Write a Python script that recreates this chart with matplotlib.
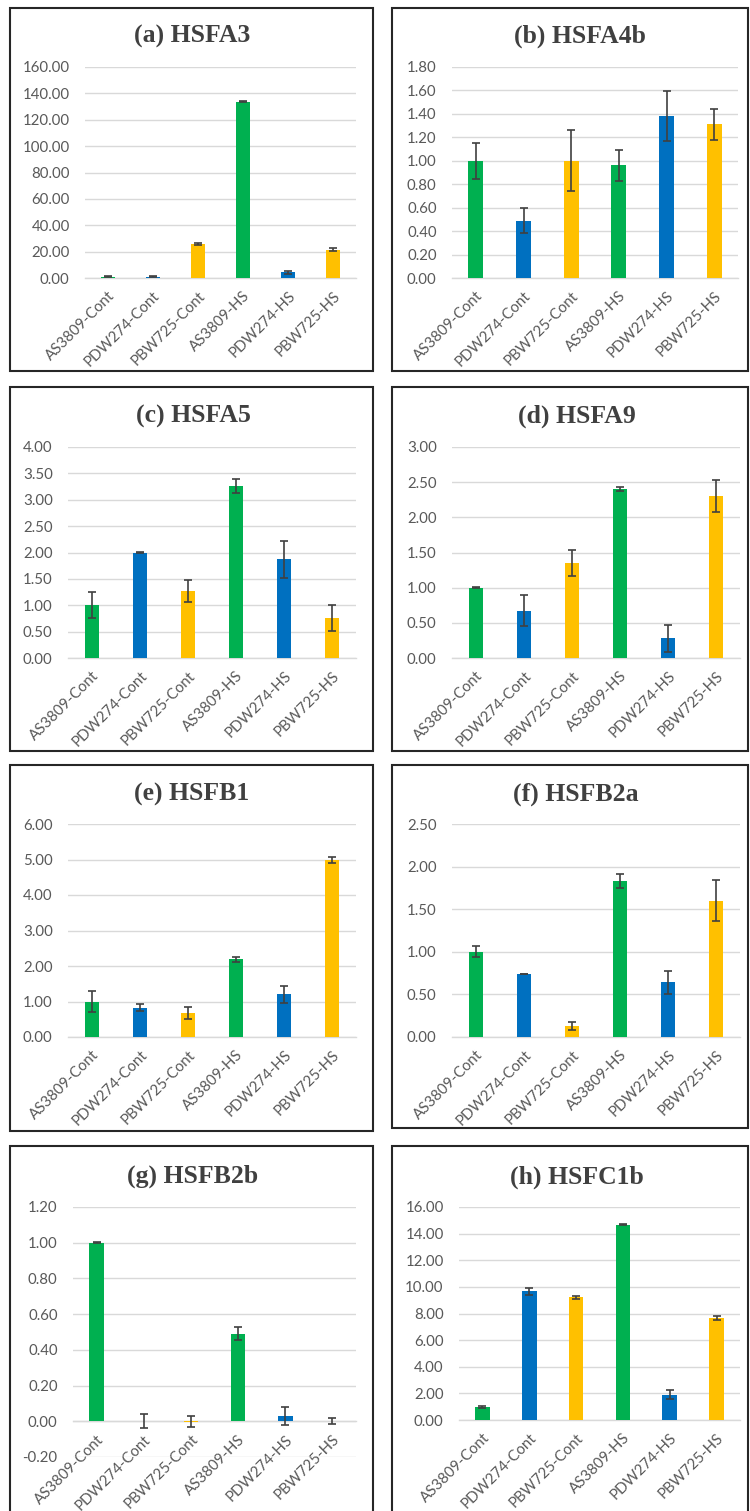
import matplotlib
matplotlib.use("Agg")
import matplotlib.pyplot as plt
from matplotlib.patches import Rectangle

categories = ["AS3809-Cont", "PDW274-Cont", "PBW725-Cont", "AS3809-HS", "PDW274-HS", "PBW725-HS"]
bar_colors = ["#00B050", "#0070C0", "#FFC000", "#00B050", "#0070C0", "#FFC000"]

titles = ["(a) HSFA3", "(b) HSFA4b", "(c) HSFA5", "(d) HSFA9",
          "(e) HSFB1", "(f) HSFB2a", "(g) HSFB2b", "(h) HSFC1b"]

hsfa3 = [1.0, 1.0, 25.8, 133.8, 4.4, 21.6]
hsfa3_err = [0.6, 0.4, 1.0, 0.5, 1.0, 0.9]
hsfa4b = [1.00, 0.49, 1.00, 0.96, 1.38, 1.31]
hsfa4b_err = [0.155, 0.11, 0.26, 0.13, 0.215, 0.135]
hsfa5 = [1.00, 2.00, 1.27, 3.26, 1.87, 0.76]
hsfa5_err = [0.25, 0.005, 0.215, 0.14, 0.35, 0.24]
hsfa9 = [1.00, 0.67, 1.35, 2.40, 0.28, 2.30]
hsfa9_err = [0.01, 0.22, 0.19, 0.025, 0.19, 0.23]
hsfb1 = [1.00, 0.83, 0.67, 2.19, 1.20, 4.98]
hsfb1_err = [0.30, 0.11, 0.17, 0.07, 0.25, 0.08]
hsfb2a = [1.00, 0.74, 0.13, 1.83, 0.64, 1.60]
hsfb2a_err = [0.065, 0.005, 0.048, 0.08, 0.13, 0.24]
hsfb2b = [1.00, 0.00, -0.002, 0.49, 0.03, 0.00]
hsfb2b_err = [0.003, 0.04, 0.032, 0.037, 0.05, 0.017]
hsfc1b = [1.00, 9.66, 9.21, 14.67, 1.90, 7.66]
hsfc1b_err = [0.07, 0.27, 0.10, 0.05, 0.33, 0.13]

values = [hsfa3, hsfa4b, hsfa5, hsfa9, hsfb1, hsfb2a, hsfb2b, hsfc1b]
errors = [hsfa3_err, hsfa4b_err, hsfa5_err, hsfa9_err, hsfb1_err, hsfb2a_err, hsfb2b_err, hsfc1b_err]
yticks = [
    [0, 20, 40, 60, 80, 100, 120, 140, 160],
    [0, 0.2, 0.4, 0.6, 0.8, 1.0, 1.2, 1.4, 1.6, 1.8],
    [0, 0.5, 1.0, 1.5, 2.0, 2.5, 3.0, 3.5, 4.0],
    [0, 0.5, 1.0, 1.5, 2.0, 2.5, 3.0],
    [0, 1, 2, 3, 4, 5, 6],
    [0, 0.5, 1.0, 1.5, 2.0, 2.5],
    [-0.2, 0, 0.2, 0.4, 0.6, 0.8, 1.0, 1.2],
    [0, 2, 4, 6, 8, 10, 12, 14, 16],
]

W, H = 750, 1511
fig = plt.figure(figsize=(W / 100, H / 100), dpi=100)

# plot area pixel boxes: left, right, top, bottom
axes_px = [
    (85, 356, 67, 278), (452, 738, 67, 278),
    (68, 356, 447, 658), (452, 740, 447, 658),
    (68, 356, 824, 1037), (452, 740, 824, 1037),
    (73, 356, 1207, 1457), (459, 740, 1207, 1420),
]
# border boxes: left, right, top, bottom
borders_px = [
    (10, 373, 8, 371), (392, 748, 8, 371),
    (10, 373, 387, 751), (392, 748, 387, 751),
    (10, 373, 765, 1131), (392, 748, 765, 1128),
    (10, 373, 1146, 1530), (392, 748, 1146, 1530),
]
title_px = [
    (192, 36), (580, 36), (193, 416), (577, 416),
    (192, 794), (576, 794), (193, 1176), (577, 1177),
]

for (l, r, t, b) in borders_px:
    fig.patches.append(Rectangle((l / W, 1 - b / H), (r - l) / W, (b - t) / H,
                                 transform=fig.transFigure, fill=False,
                                 edgecolor="#262626", linewidth=1.5, zorder=0))

tick_color = "#595959"
for i in range(8):
    l, r, t, b = axes_px[i]
    ax = fig.add_axes([l / W, 1 - b / H, (r - l) / W, (b - t) / H])
    x = list(range(len(categories)))
    ax.bar(x, values[i], width=0.31, color=bar_colors, zorder=3)
    ax.errorbar(x, values[i], yerr=errors[i], fmt="none", ecolor="#404040",
                elinewidth=1.2, capsize=3, capthick=1.2, zorder=4)
    ax.set_xlim(-0.5, 5.5)
    ax.set_ylim(yticks[i][0], yticks[i][-1])
    ax.set_yticks(yticks[i])
    ax.set_yticklabels([f"{v:.2f}" for v in yticks[i]], fontfamily="Lato",
                       fontsize=10.8, color=tick_color)
    ax.yaxis.grid(True, color="#D9D9D9", linewidth=1.0, zorder=0)
    ax.set_axisbelow(True)
    for s in ["top", "right", "left"]:
        ax.spines[s].set_visible(False)
    ax.spines["bottom"].set_color("#D9D9D9")
    ax.spines["bottom"].set_linewidth(1.0)
    ax.spines["bottom"].set_position(("data", 0))
    ax.set_xticks(x)
    ax.set_xticklabels(categories, rotation=45, ha="right", va="top",
                       rotation_mode="anchor", fontfamily="Lato",
                       fontsize=10.8, color=tick_color)
    ax.tick_params(axis="x", length=0, pad=8)
    ax.tick_params(axis="y", length=0, pad=11)
    ax.patch.set_alpha(0)
    tx, ty = title_px[i]
    fig.text(tx / W, 1 - ty / H, titles[i], ha="center", va="center",
             fontfamily="Liberation Serif", fontweight="bold", fontsize=18.5,
             color="#404040")

fig.savefig("out.png", dpi=100, facecolor="white")
